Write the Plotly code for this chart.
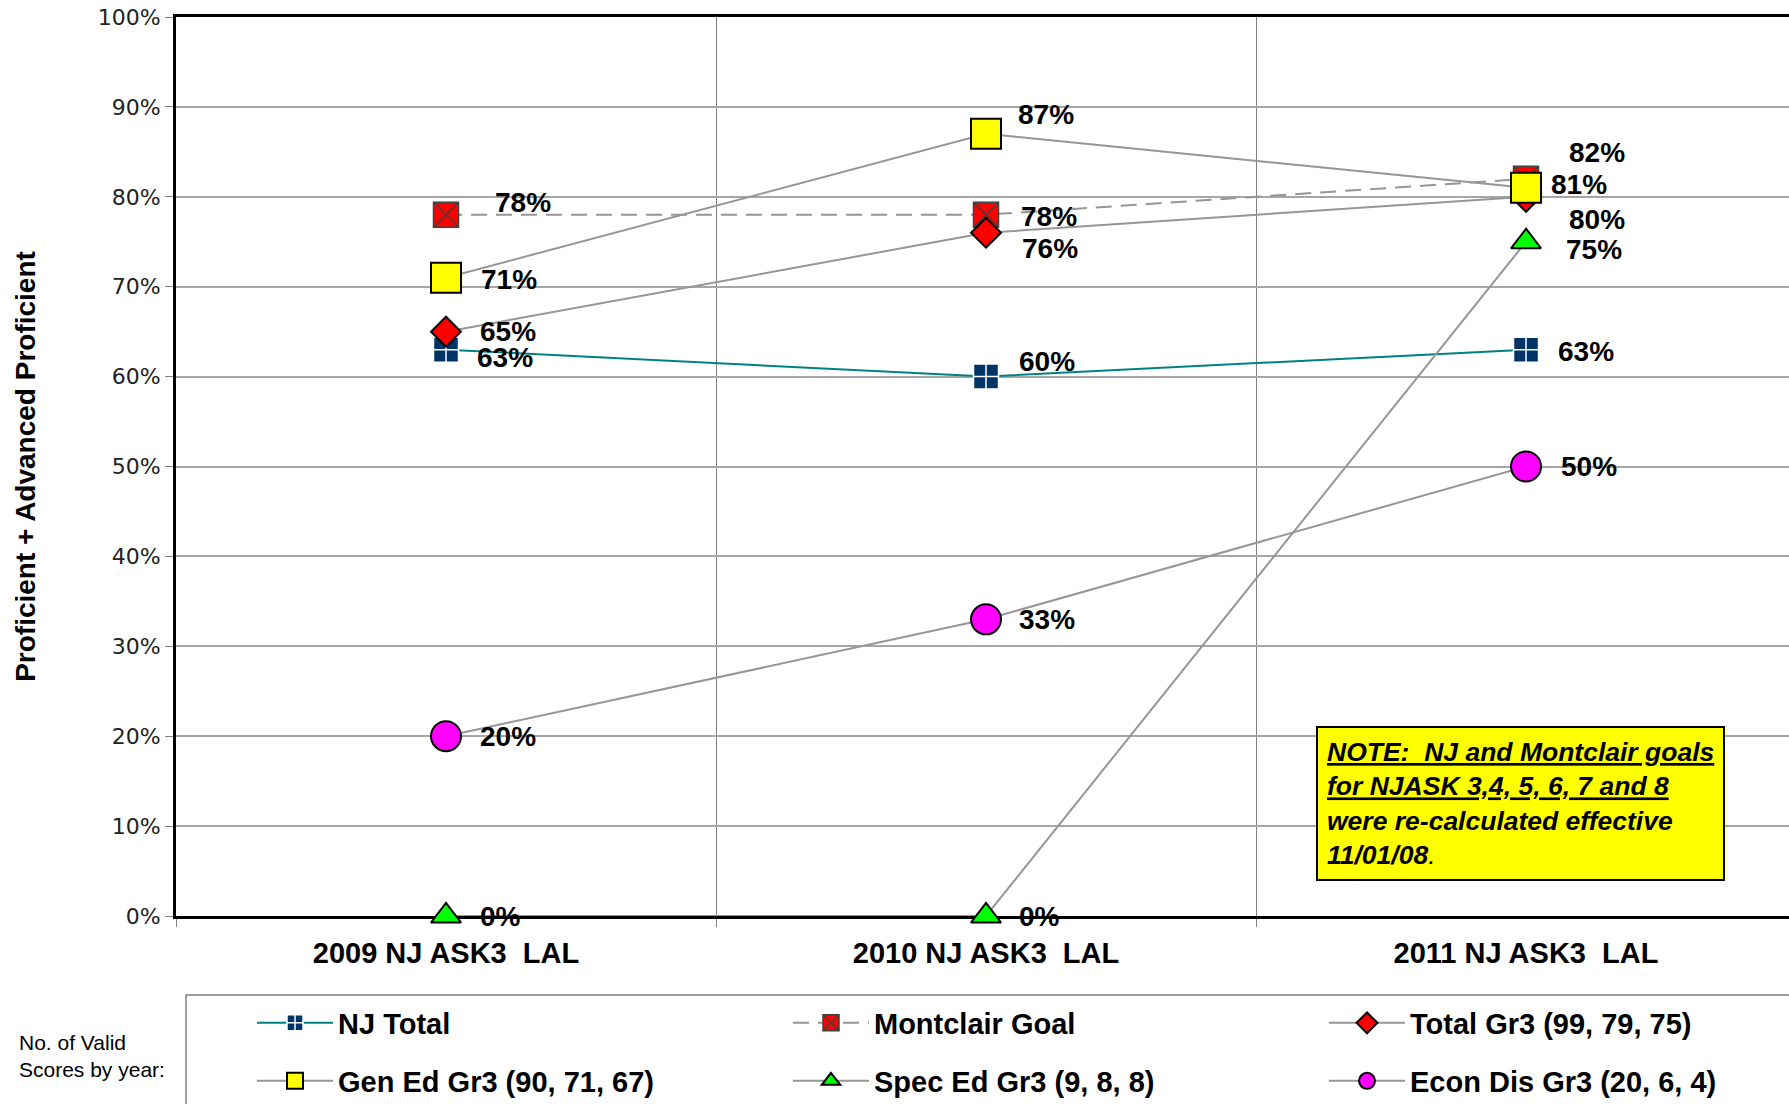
import plotly.graph_objects as go

# ---------------- data ----------------
categories = ["2009 NJ ASK3  LAL", "2010 NJ ASK3  LAL", "2011 NJ ASK3  LAL"]
y_tick_values = [0, 10, 20, 30, 40, 50, 60, 70, 80, 90, 100]
y_tick_labels = ["0%", "10%", "20%", "30%", "40%", "50%", "60%", "70%", "80%", "90%", "100%"]

series_names = [
    "NJ Total",
    "Montclair Goal",
    "Total Gr3 (99, 79, 75)",
    "Gen Ed Gr3 (90, 71, 67)",
    "Spec Ed Gr3 (9, 8, 8)",
    "Econ Dis Gr3 (20, 6, 4)",
]
nj_total = [63, 60, 63]
montclair_goal = [78, 78, 82]
total_gr3 = [65, 76, 80]
gen_ed_gr3 = [71, 87, 81]
spec_ed_gr3 = [0, 0, 75]
econ_dis_gr3 = [20, 33, 50]

note_text = ("<i><b><u>NOTE:&nbsp; NJ and Montclair goals</u><br>"
             "<u>for NJASK 3,4, 5, 6, 7 and 8</u><br>"
             "were re-calculated effective<br>11/01/08</b>.</i>")
side_text = "No. of Valid<br>Scores by year:"
y_title = "Proficient + Advanced Proficient"

# ---------------- styles ----------------
GRAY = "#969696"
styles = [
    dict(line=dict(color="#008080", width=2),
         marker=dict(symbol="square-cross", size=25, color="#003366",
                     line=dict(color="white", width=1.5)), legend="legend"),
    dict(line=dict(color=GRAY, width=2, dash="16px,9px"),
         marker=dict(symbol="square-x", size=25, color="#FF0000",
                     line=dict(color="#404040", width=1.5)), legend="legend"),
    dict(line=dict(color=GRAY, width=2),
         marker=dict(symbol="diamond", size=23, color="#FF0000",
                     line=dict(color="black", width=2)), legend="legend"),
    dict(line=dict(color=GRAY, width=2),
         marker=dict(symbol="square", size=30, color="#FFFF00",
                     line=dict(color="black", width=2)), legend="legend2"),
    dict(line=dict(color=GRAY, width=2),
         marker=dict(symbol="triangle-up", size=26, color="#00FF00",
                     line=dict(color="black", width=2)), legend="legend2"),
    dict(line=dict(color=GRAY, width=2),
         marker=dict(symbol="circle", size=30, color="#FF00FF",
                     line=dict(color="black", width=2)), legend="legend2"),
]
# data-label offsets in pixels (dx, dy) per series / per category
label_offsets = [
    [(29, -8), (31, 15), (30, -2)],
    [(47, 12), (33, -2), (41, 26)],
    [(32, 0), (34, -16), (41, -23)],
    [(33, -2), (30, 19), (23, 3)],
    [(32, 0), (31, 0), (38, -8)],
    [(32, 0), (31, 0), (33, 0)],
]

all_values = [nj_total, montclair_goal, total_gr3, gen_ed_gr3, spec_ed_gr3, econ_dis_gr3]

fig = go.Figure()
annotations = []
for name, vals, st, offs in zip(series_names, all_values, styles, label_offsets):
    fig.add_trace(go.Scatter(
        x=categories, y=vals, name=name, mode="lines+markers",
        line=st["line"], marker=st["marker"], legend=st["legend"],
        cliponaxis=False, hoverinfo="skip",
    ))
    for c, v, (dx, dy) in zip(categories, vals, offs):
        annotations.append(dict(
            x=c, y=v, xref="x", yref="y", text=f"{v}%", showarrow=False,
            xanchor="left", yanchor="middle", xshift=dx, yshift=dy,
            font=dict(family="Liberation Sans, Arial", size=28, color="black", weight="bold"),
        ))

W, H = 1789, 1104
L, R, T, B = 176, 0, 17, 188
pw, ph = W - L - R, H - T - B

def px_x(px):
    return (px - L) / pw

def px_y(py):
    return (H - B - py) / ph

annotations.append(dict(
    xref="paper", yref="paper", x=px_x(1316), y=px_y(726),
    xanchor="left", yanchor="top", text=note_text, showarrow=False, align="left",
    bgcolor="#FFFF00", bordercolor="black", borderwidth=2, borderpad=9,
    font=dict(family="Liberation Sans, Arial", size=26.5, color="black"),
))
annotations.append(dict(
    xref="paper", yref="paper", x=px_x(17), y=px_y(1056),
    xanchor="left", yanchor="middle", text=side_text, showarrow=False, align="left",
    font=dict(family="Liberation Sans, Arial", size=21, color="black"),
))

legend_common = dict(
    orientation="h", xanchor="left", yanchor="middle",
    entrywidth=445, entrywidthmode="pixels", itemwidth=76,
    bgcolor="rgba(0,0,0,0)", borderwidth=0, traceorder="normal",
    font=dict(family="Liberation Sans, Arial", size=29, color="black", weight="bold"),
    itemclick=False, itemdoubleclick=False,
)

fig.update_layout(
    template="none",
    width=W, height=H,
    margin=dict(l=L, r=R, t=T, b=B, autoexpand=False),
    paper_bgcolor="white", plot_bgcolor="white",
    font=dict(family="Liberation Sans, Arial", color="black"),
    showlegend=True,
    legend=dict(x=px_x(252), y=px_y(1023), **legend_common),
    legend2=dict(x=px_x(252), y=px_y(1081), **legend_common),
    annotations=annotations,
    shapes=[dict(type="rect", xref="paper", yref="paper",
                 x0=px_x(186), x1=px_x(1810), y0=px_y(995), y1=px_y(1130),
                 line=dict(color="#808080", width=1.5), fillcolor="rgba(0,0,0,0)",
                 layer="below")],
    xaxis=dict(
        type="category", categoryorder="array", categoryarray=categories,
        range=[-0.5, 2.487], tickson="boundaries",
        showgrid=True, gridcolor="#808080", gridwidth=1,
        showline=True, linecolor="black", linewidth=3, mirror=True,
        ticks="outside", ticklen=8, tickcolor="#808080", tickwidth=1,
        tickfont=dict(family="Liberation Sans, Arial", size=29, color="black", weight="bold"),
        ticklabelstandoff=9, layer="below traces", fixedrange=True,
    ),
    yaxis=dict(
        range=[0, 100], tickmode="array", tickvals=y_tick_values, ticktext=y_tick_labels,
        showgrid=True, gridcolor="#A6A6A6", gridwidth=2, zeroline=False,
        showline=True, linecolor="black", linewidth=3, mirror=False,
        ticks="outside", ticklen=8, tickcolor="#808080", tickwidth=1,
        tickfont=dict(family="DejaVu Sans", size=22, color="#222222"),
        title=dict(text=y_title, standoff=54,
                   font=dict(family="Liberation Sans, Arial", size=28, color="black", weight="bold")),
        layer="below traces", fixedrange=True,
    ),
)

fig.write_html("out.html", config={"displayModeBar": False},
               post_script="document.body.style.margin='0';document.body.style.overflow='hidden';")
